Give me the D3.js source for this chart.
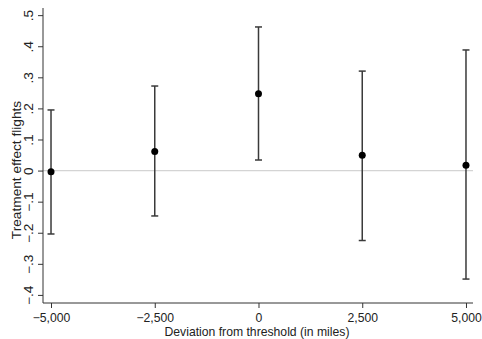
<!DOCTYPE html>
<html>
<head>
<meta charset="utf-8">
<script src="https://cdn.jsdelivr.net/npm/d3@7"></script>
<style>
  html, body { margin: 0; padding: 0; background: #fff; }
  svg { display: block; font-family: "Liberation Sans", Arial, sans-serif; }
</style>
</head>
<body>
<svg id="chart" width="482" height="339"></svg>
<script>
// Distance from the eligibility threshold (miles)
const deviations = [-5000, -2500, 0, 2500, 5000];
// Point estimates and 95% confidence bounds
const estimates = [-0.004, 0.061, 0.247, 0.049, 0.017];
const lowerCI  = [-0.204, -0.146, 0.034, -0.225, -0.349];
const upperCI  = [0.195, 0.272, 0.462, 0.320, 0.388];

const xTicks = [-5000, -2500, 0, 2500, 5000];
const yTicks = [-0.4, -0.3, -0.2, -0.1, 0, 0.1, 0.2, 0.3, 0.4, 0.5];

const svg = d3.select("#chart");
const plotL = 43, plotR = 473, plotT = 8, plotB = 303;

const x = d3.scaleLinear().domain([-5193, 5169]).range([plotL, plotR]);
const y = d3.scaleLinear().domain([-0.426, 0.523]).range([plotB, plotT]);

const fmtX = v => d3.format(",")(v).replace("-", "\u2212");
const fmtY = v => {
  if (v === 0) return "0";
  const s = d3.format(".1f")(Math.abs(v)).replace(/^0/, "");
  return (v < 0 ? "\u2212" : "") + s;
};

// zero reference line
svg.append("line")
  .attr("x1", plotL).attr("x2", plotR)
  .attr("y1", y(0)).attr("y2", y(0))
  .attr("stroke", "#d4d4d4").attr("stroke-width", 1.2);

// x axis
const xAxis = svg.append("g")
  .attr("transform", `translate(0,${plotB})`)
  .call(d3.axisBottom(x).tickValues(xTicks).tickFormat(fmtX).tickSize(5).tickSizeOuter(0));
xAxis.select(".domain").attr("stroke", "#333").attr("d", `M${plotL},0H${plotR}`);
xAxis.selectAll(".tick line").attr("stroke", "#333");
xAxis.selectAll(".tick text")
  .attr("font-size", 12.2).attr("fill", "#222")
  .attr("dy", null).attr("y", 19);

// y axis
const yAxis = svg.append("g")
  .attr("transform", `translate(${plotL},0)`)
  .call(d3.axisLeft(y).tickValues(yTicks).tickFormat(fmtY).tickSize(5).tickSizeOuter(0));
yAxis.select(".domain").attr("stroke", "#333").attr("d", `M0,${plotT}V${plotB}`);
yAxis.selectAll(".tick line").attr("stroke", "#333");
yAxis.selectAll(".tick text")
  .attr("font-size", 12).attr("fill", "#222")
  .attr("x", null).attr("dy", null)
  .attr("text-anchor", "middle")
  .attr("transform", "translate(-10,0) rotate(-90) scale(1.14,1)");

// axis titles
svg.append("text")
  .attr("x", 257).attr("y", 336)
  .attr("text-anchor", "middle").attr("font-size", 12.2).attr("fill", "#222")
  .text("Deviation from threshold (in miles)");
svg.append("text")
  .attr("transform", `translate(21,170) rotate(-90) scale(1.14,1)`)
  .attr("text-anchor", "middle").attr("font-size", 12).attr("fill", "#222")
  .text("Treatment effect flights");

// confidence intervals
const rows = deviations.map((d, i) => ({ d, est: estimates[i], lo: lowerCI[i], hi: upperCI[i] }));
const bars = svg.append("g").attr("stroke", "#3a3a3a").attr("stroke-width", 1.5);
bars.selectAll(".stem").data(rows).join("line")
  .attr("x1", r => x(r.d)).attr("x2", r => x(r.d))
  .attr("y1", r => y(r.lo)).attr("y2", r => y(r.hi));
bars.selectAll(".capHi").data(rows).join("line")
  .attr("x1", r => x(r.d) - 3.5).attr("x2", r => x(r.d) + 3.5)
  .attr("y1", r => y(r.hi)).attr("y2", r => y(r.hi));
bars.selectAll(".capLo").data(rows).join("line")
  .attr("x1", r => x(r.d) - 3.5).attr("x2", r => x(r.d) + 3.5)
  .attr("y1", r => y(r.lo)).attr("y2", r => y(r.lo));

// point estimates
svg.append("g").selectAll("circle").data(rows).join("circle")
  .attr("cx", r => x(r.d)).attr("cy", r => y(r.est))
  .attr("r", 3.5).attr("fill", "#000");
</script>
</body>
</html>
